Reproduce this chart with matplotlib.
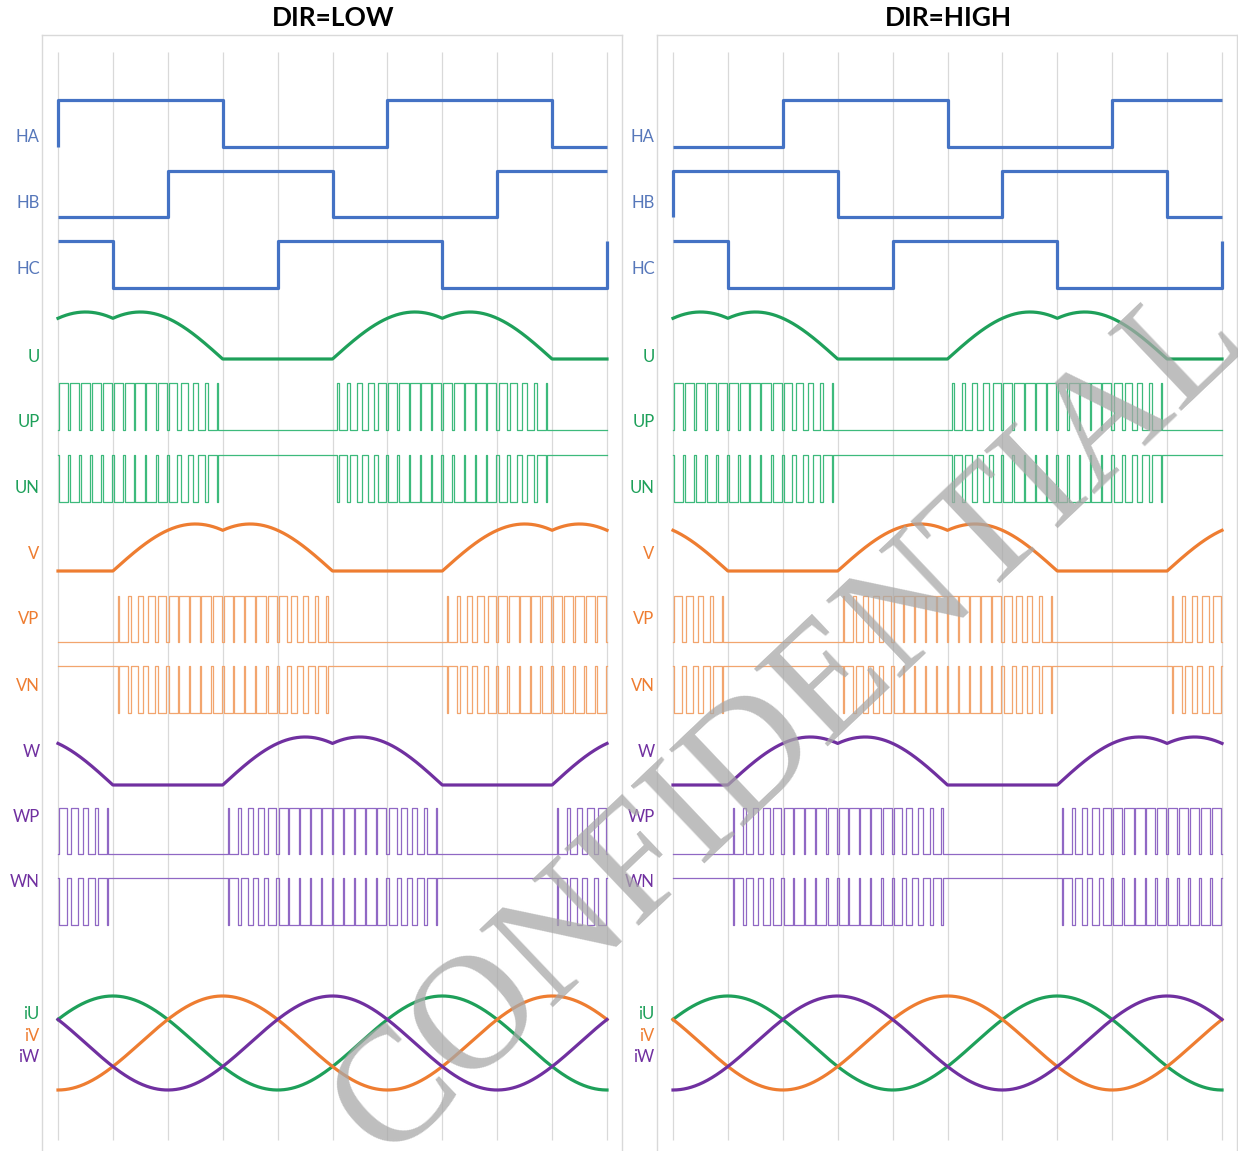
import numpy as np
import matplotlib.pyplot as plt

# secteurs de 60 degres electriques, 10 secteurs par panneau
SECTOR_DEG = 60
N_SECTORS = 10
CARRIER_DEG = 12      # periode de la porteuse PWM
MOD_INDEX = 0.9

# etats Hall : [avant, s0 .. s9, apres]
hall_low = {
    'HA': [0, 1, 1, 1, 0, 0, 0, 1, 1, 1, 0, 0],
    'HB': [0, 0, 0, 1, 1, 1, 0, 0, 0, 1, 1, 1],
    'HC': [1, 1, 0, 0, 0, 1, 1, 1, 0, 0, 0, 1],
}
hall_high = {
    'HA': [0, 0, 0, 1, 1, 1, 0, 0, 0, 1, 1, 1],
    'HB': [0, 1, 1, 1, 0, 0, 0, 1, 1, 1, 0, 0],
    'HC': [1, 1, 0, 0, 0, 1, 1, 1, 0, 0, 0, 1],
}

# position (deg) du maximum de courant de chaque phase
peak_low = {'U': 60, 'V': 180, 'W': 300}
peak_high = {'U': 60, 'V': 300, 'W': 180}

titles = ['DIR=LOW', 'DIR=HIGH']

# couleurs
BLUE = '#4472c4'
BLUE_TXT = '#5677ba'
GREEN = '#1ea05a'
ORANGE = '#ee7d31'
PURPLE = '#7030a0'
light = {'U': '#3dba7c', 'V': '#f2a56e', 'W': '#9068c4'}
dark = {'U': GREEN, 'V': ORANGE, 'W': PURPLE}
GRID = '#d9d9d9'

# lignes (en pixels image) : (haut, bas)
rows = {
    'HA': (100, 147), 'HB': (171, 217), 'HC': (241, 288),
    'U': (312, 359), 'UP': (383, 430), 'UN': (455, 502),
    'V': (524, 571), 'VP': (596, 642), 'VN': (666, 713),
    'W': (737, 785), 'WP': (808, 854), 'WN': (878, 925),
    'I': (996, 1090),
}
label_y = {'HA': 137, 'HB': 203, 'HC': 269, 'U': 357, 'UP': 422, 'UN': 488,
           'V': 554, 'VP': 619, 'VN': 686, 'W': 752, 'WP': 817, 'WN': 882}
cur_label_y = {'U': 1014, 'V': 1036, 'W': 1057}

W_PX, H_PX = 1238, 1151
FONT = ['Lato', 'DejaVu Sans']


def hall_trace(states):
    xs, ys = [0], [states[0]]
    for i, s in enumerate(states[1:-1]):
        xs += [i * SECTOR_DEG, (i + 1) * SECTOR_DEG]
        ys += [s, s]
    xs.append(N_SECTORS * SECTOR_DEG)
    ys.append(states[-1])
    return np.array(xs), np.array(ys)


def saddle(theta):
    t = np.radians(theta)
    a, b, c = np.sin(t), np.sin(t - 2 * np.pi / 3), np.sin(t + 2 * np.pi / 3)
    return a - np.minimum(np.minimum(a, b), c)


def pwm_trace(peak):
    xs, ys = [0], [0]
    for c in np.arange(CARRIER_DEG / 2, N_SECTORS * SECTOR_DEG, CARRIER_DEG):
        d = MOD_INDEX * saddle(c - peak + 90) / np.sqrt(3)
        if d > 0.003:
            a, b = c - d * CARRIER_DEG / 2, c + d * CARRIER_DEG / 2
            xs += [a, a, b, b]
            ys += [0, 1, 1, 0]
    xs.append(N_SECTORS * SECTOR_DEG)
    ys.append(0)
    return np.array(xs), np.array(ys)


def level(vals, key):
    top, bot = rows[key]
    return bot - vals * (bot - top)


fig = plt.figure(figsize=(W_PX / 100, H_PX / 100), dpi=100)

px_per_deg = 54.9 / SECTOR_DEG
for k, (x0, hall, peaks) in enumerate([(42, hall_low, peak_low), (657, hall_high, peak_high)]):
    ax = fig.add_axes([x0 / W_PX, 1 - 1162 / H_PX, 580 / W_PX, (1162 - 35) / H_PX])
    ax.set_xlim(-16 / px_per_deg, -16 / px_per_deg + 580 / px_per_deg)
    ax.set_ylim(1162, 35)
    ax.set_xticks([])
    ax.set_yticks([])
    for s in ax.spines.values():
        s.set_color(GRID)
        s.set_linewidth(1)

    ax.vlines(np.arange(N_SECTORS + 1) * SECTOR_DEG, 52, 1140, color=GRID, lw=0.9, zorder=1)

    # capteurs Hall
    for name, st in hall.items():
        xs, ys = hall_trace(st)
        ax.plot(xs, level(ys, name), color=BLUE, lw=2.3, zorder=3, solid_capstyle='butt')
        ax.text(-20, label_y[name], name, color=BLUE_TXT, fontsize=12, ha='right',
                va='center', family=FONT, clip_on=False)

    x = np.linspace(0, N_SECTORS * SECTOR_DEG, 1201)
    for ph in ['U', 'V', 'W']:
        # tension de phase (DPWM)
        v = saddle(x - peaks[ph] + 90) / np.sqrt(3)
        ax.plot(x, level(v, ph), color=dark[ph], lw=2.3, zorder=3)
        ax.text(-20, label_y[ph], ph, color=dark[ph], fontsize=12, ha='right',
                va='center', family=FONT, clip_on=False)
        # commandes haut / bas
        xs, ys = pwm_trace(peaks[ph])
        ax.plot(xs, level(ys, ph + 'P'), color=light[ph], lw=0.9, zorder=3)
        ax.plot(xs, level(1 - ys, ph + 'N'), color=light[ph], lw=0.9, zorder=3)
        for suf in ['P', 'N']:
            ax.text(-20, label_y[ph + suf], ph + suf, color=dark[ph], fontsize=12,
                    ha='right', va='center', family=FONT, clip_on=False)
        # courant de phase
        top, bot = rows['I']
        i = np.cos(np.radians(x - peaks[ph]))
        ax.plot(x, (top + bot) / 2 - i * (bot - top) / 2, color=dark[ph], lw=2.3, zorder=4)
        ax.text(-20, cur_label_y[ph], 'i' + ph, color=dark[ph], fontsize=12,
                ha='right', va='center', family=FONT, clip_on=False)

    fig.text((x0 + 16 + 275) / W_PX, 1 - 18 / H_PX, titles[k], fontsize=19,
             fontweight='bold', ha='center', va='center', family=FONT)

# filigrane
fig.text(790 / W_PX, 1 - 722 / H_PX, 'CONFIDENTIAL', fontsize=117, rotation=43.5,
         rotation_mode='anchor', ha='center', va='center', color='#a8a8a8', alpha=0.75,
         family=['Liberation Serif', 'DejaVu Serif'], zorder=10)

fig.savefig('out.png', dpi=100)
